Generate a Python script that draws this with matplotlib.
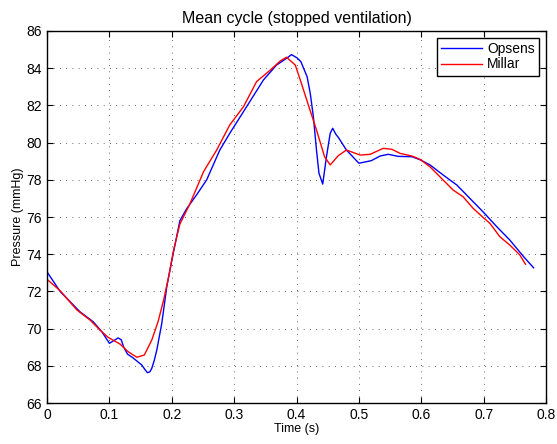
import matplotlib
matplotlib.use("Agg")
import matplotlib.pyplot as plt

plt.rcParams['font.family'] = ['Liberation Sans', 'DejaVu Sans']

# Opsens curve (time in s, pressure in mmHg)
t_opsens = [0.0, 0.021, 0.053, 0.074, 0.088, 0.1, 0.107, 0.114, 0.119, 0.123,
            0.129, 0.137, 0.144, 0.152, 0.157, 0.161, 0.165, 0.168, 0.172, 0.176,
            0.184, 0.192, 0.2, 0.213, 0.224, 0.24, 0.256, 0.277, 0.293, 0.32,
            0.347, 0.368, 0.384, 0.392, 0.401, 0.407, 0.417, 0.422, 0.427, 0.432,
            0.436, 0.442, 0.448, 0.454, 0.458, 0.463, 0.467, 0.48, 0.5, 0.52,
            0.534, 0.547, 0.563, 0.585, 0.598, 0.614, 0.635, 0.657, 0.678, 0.699,
            0.721, 0.742, 0.764, 0.78]
p_opsens = [73.05, 72.0, 70.9, 70.37, 69.83, 69.21, 69.35, 69.5, 69.4, 69.0,
            68.63, 68.45, 68.26, 68.04, 67.8, 67.63, 67.68, 67.87, 68.3, 68.85,
            70.28, 72.25, 73.65, 75.8, 76.45, 77.2, 78.0, 79.6, 80.5, 81.93,
            83.37, 84.17, 84.53, 84.73, 84.55, 84.35, 83.54, 82.65, 81.4, 79.6,
            78.35, 77.77, 79.24, 80.5, 80.77, 80.45, 80.28, 79.6, 78.89, 79.03,
            79.28, 79.37, 79.26, 79.24, 79.08, 78.8, 78.26, 77.72, 77.0, 76.28,
            75.48, 74.76, 73.87, 73.27]

# Millar curve
t_millar = [0.0, 0.021, 0.048, 0.069, 0.085, 0.098, 0.117, 0.13, 0.144, 0.156,
            0.168, 0.178, 0.187, 0.195, 0.203, 0.213, 0.229, 0.251, 0.272, 0.293,
            0.315, 0.336, 0.358, 0.374, 0.384, 0.398, 0.406, 0.419, 0.432, 0.445,
            0.454, 0.467, 0.48, 0.502, 0.518, 0.539, 0.553, 0.566, 0.585, 0.598,
            0.614, 0.635, 0.651, 0.667, 0.683, 0.699, 0.71, 0.726, 0.742, 0.758,
            0.767]
p_millar = [72.65, 72.04, 71.0, 70.46, 69.92, 69.53, 69.17, 68.76, 68.46, 68.58,
            69.39, 70.37, 71.54, 72.79, 74.23, 75.62, 76.7, 78.44, 79.6, 80.95,
            81.93, 83.28, 83.9, 84.39, 84.59, 84.17, 83.37, 82.02, 80.68, 79.24,
            78.8, 79.3, 79.6, 79.33, 79.37, 79.69, 79.64, 79.42, 79.28, 79.1,
            78.7, 77.99, 77.45, 77.09, 76.47, 75.98, 75.66, 74.94, 74.49, 73.96,
            73.46]

fig = plt.figure(figsize=(5.57, 4.44), dpi=100)
ax = fig.add_axes([0.0844, 0.0923, 0.8959, 0.8379])

ax.plot(t_opsens, p_opsens, color='blue', linewidth=1.0, label='Opsens')
ax.plot(t_millar, p_millar, color='red', linewidth=1.0, label='Millar')

ax.set_xlim(0, 0.8)
ax.set_ylim(66, 86)
ax.set_xticks([0, 0.1, 0.2, 0.3, 0.4, 0.5, 0.6, 0.7, 0.8])
ax.set_xticklabels(['0', '0.1', '0.2', '0.3', '0.4', '0.5', '0.6', '0.7', '0.8'])
ax.set_yticks(range(66, 87, 2))

ax.grid(True, linestyle=(0, (1, 6.5)), color='black', linewidth=0.6, alpha=0.8)
ax.tick_params(direction='in', top=True, right=True, labelsize=10, length=4)
for s in ax.spines.values():
    s.set_linewidth(1.0)

ax.set_xlabel('Time (s)', fontsize=9, labelpad=1)
ax.set_ylabel('Pressure (mmHg)', fontsize=9, labelpad=2)
ax.set_title('Mean cycle (stopped ventilation)', fontsize=11.5, pad=6)

leg = ax.legend(loc='upper right', fontsize=10, fancybox=False, framealpha=1,
                edgecolor='black', handlelength=2.9, borderaxespad=0.5,
                borderpad=0.3, labelspacing=0.1, handletextpad=0.4)
leg.get_frame().set_linewidth(1.0)

fig.savefig('out.png', dpi=100)
